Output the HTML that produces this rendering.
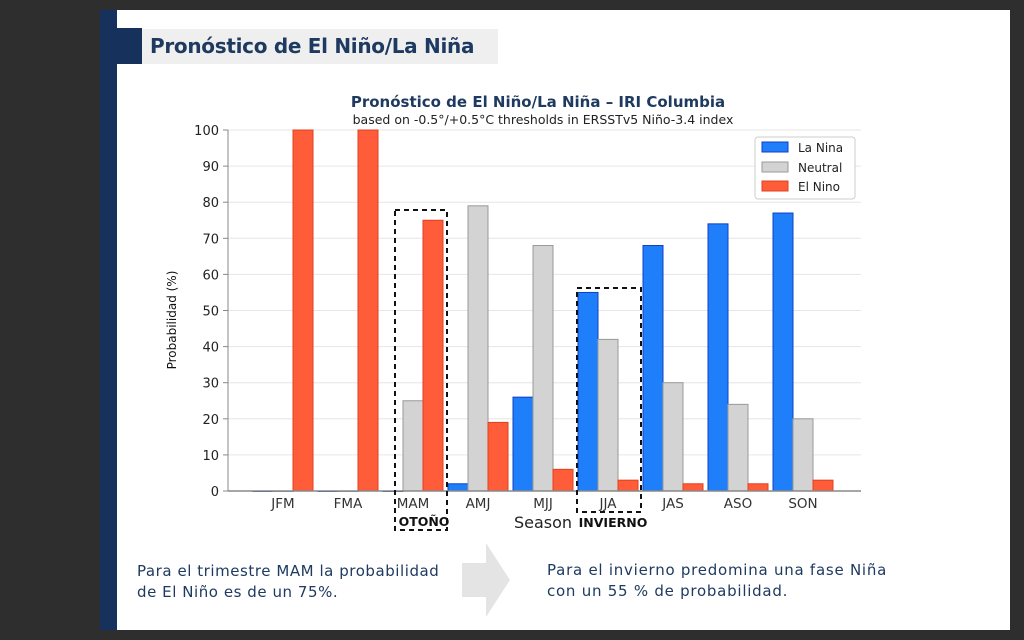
<!DOCTYPE html>
<html><head><meta charset="utf-8"><style>
body{margin:0;width:1024px;height:640px;background:#2e2e2e;position:relative;overflow:hidden;font-family:"DejaVu Sans","Liberation Sans",sans-serif}
.abs{position:absolute}
</style></head><body>
<div class="abs" style="left:100px;top:10px;width:910px;height:620px;background:#fff"></div>
<div class="abs" style="left:100px;top:10px;width:17px;height:620px;background:#16325c"></div>
<div class="abs" style="left:117px;top:28px;width:25px;height:36px;background:#16325c"></div>
<div class="abs" style="left:142px;top:29px;width:356px;height:35px;background:#efefef;color:#1f3a60;font-weight:bold;font-size:20px;letter-spacing:-0.3px;line-height:35px;padding-left:8px;box-sizing:border-box;white-space:nowrap;overflow:hidden">Pronóstico de El Niño/La Niña</div>
<svg class="abs" style="left:0;top:0" width="1024" height="640">
<text x="538" y="107" text-anchor="middle" font-size="15" font-weight="bold" fill="#1f3a60">Pronóstico de El Niño/La Niña – IRI Columbia</text>
<text x="543" y="124" text-anchor="middle" font-size="12.5" fill="#222">based on -0.5°/+0.5°C thresholds in ERSSTv5 Niño-3.4 index</text>
<g id="grid"></g><g id="bars"></g>
<line x1="228" y1="491" x2="861" y2="491" stroke="#888" stroke-width="1.5"/>
<line x1="228" y1="130" x2="228" y2="491" stroke="#888" stroke-width="1"/>
<text x="176" y="320" transform="rotate(-90 176 320)" text-anchor="middle" font-size="12" fill="#111">Probabilidad (%)</text>
<text x="543" y="528" text-anchor="middle" font-size="16" fill="#222">Season</text>
<g>
<rect x="755" y="137" width="100" height="62" fill="#fff" stroke="#ccc" rx="3"/>
<rect x="762" y="142" width="26" height="10" fill="#1f7ffa" stroke="#1040c0"/><text x="798" y="152" font-size="12" fill="#222">La Nina</text>
<rect x="762" y="162" width="26" height="10" fill="#d3d3d3" stroke="#999"/><text x="798" y="172" font-size="12" fill="#222">Neutral</text>
<rect x="762" y="181" width="26" height="10" fill="#ff5c3a" stroke="#e04020"/><text x="798" y="191" font-size="12" fill="#222">El Nino</text>
</g>
<rect x="395" y="210" width="52" height="320" fill="none" stroke="#111" stroke-width="2" stroke-dasharray="5,4"/>
<rect x="577" y="288" width="64" height="224" fill="none" stroke="#111" stroke-width="2" stroke-dasharray="5,4"/>
<text x="424" y="526" text-anchor="middle" font-size="12.5" font-weight="bold" fill="#111">OTOÑO</text>
<text x="613" y="527" text-anchor="middle" font-size="12.5" font-weight="bold" fill="#111">INVIERNO</text>
<polygon points="462,563 486,563 486,543 510,580 486,617 486,597 462,597" fill="#e4e4e4"/>
</svg>
<div class="abs" style="left:137px;top:561px;font-size:15px;color:#1f3a60;line-height:21px;letter-spacing:0.55px;white-space:nowrap">Para el trimestre MAM la probabilidad<br>de El Niño es de un 75%.</div>
<div class="abs" style="left:547px;top:560px;font-size:15px;color:#1f3a60;line-height:21px;letter-spacing:0.75px;white-space:nowrap">Para el invierno predomina una fase Niña<br>con un 55 % de probabilidad.</div>
<script>
const categories=["JFM","FMA","MAM","AMJ","MJJ","JJA","JAS","ASO","SON"];
const laNina=[0,0,0,2,26,55,68,74,77];
const neutral=[0,0,25,79,68,42,30,24,20];
const elNino=[100,100,75,19,6,3,2,2,3];
const yTicks=[0,10,20,30,40,50,60,70,80,90,100];
const NS="http://www.w3.org/2000/svg";
const y=v=>491-v*3.61, x=i=>283+i*65;
const grid=document.getElementById('grid'),bars=document.getElementById('bars');
function mk(tag,a,p){const e=document.createElementNS(NS,tag);for(const k in a)e.setAttribute(k,a[k]);p.appendChild(e);return e;}
yTicks.forEach(t=>{
 const l=mk('line',{x1:228,x2:861,y1:y(t),y2:y(t),stroke:'#e6e6e6'},grid);
 
 
 mk('line',{x1:223,x2:228,y1:y(t),y2:y(t),stroke:'#888'},grid);
 const tx=mk('text',{x:219,y:y(t)+5,'text-anchor':'end','font-size':13,fill:'#222'},grid);tx.textContent=t;
 
 
});
const series=[[laNina,'#1f7ffa','#1040c0',-30,'la-nina'],[neutral,'#d3d3d3','#999',-10,'neutral'],[elNino,'#ff5c3a','#e04020',10,'el-nino']];
categories.forEach((c,i)=>{
 series.forEach(s=>{
  const v=s[0][i];
  const r=mk('rect',{x:x(i)+s[3],y:y(v),width:20,height:Math.max(v*3.61,0.5),fill:s[1],stroke:s[2]},bars);
  
  
 });
 const t=mk('text',{x:x(i),y:508,'text-anchor':'middle','font-size':13.5,fill:'#333'},bars);t.textContent=c;
 
 
});
</script>
</body></html>
